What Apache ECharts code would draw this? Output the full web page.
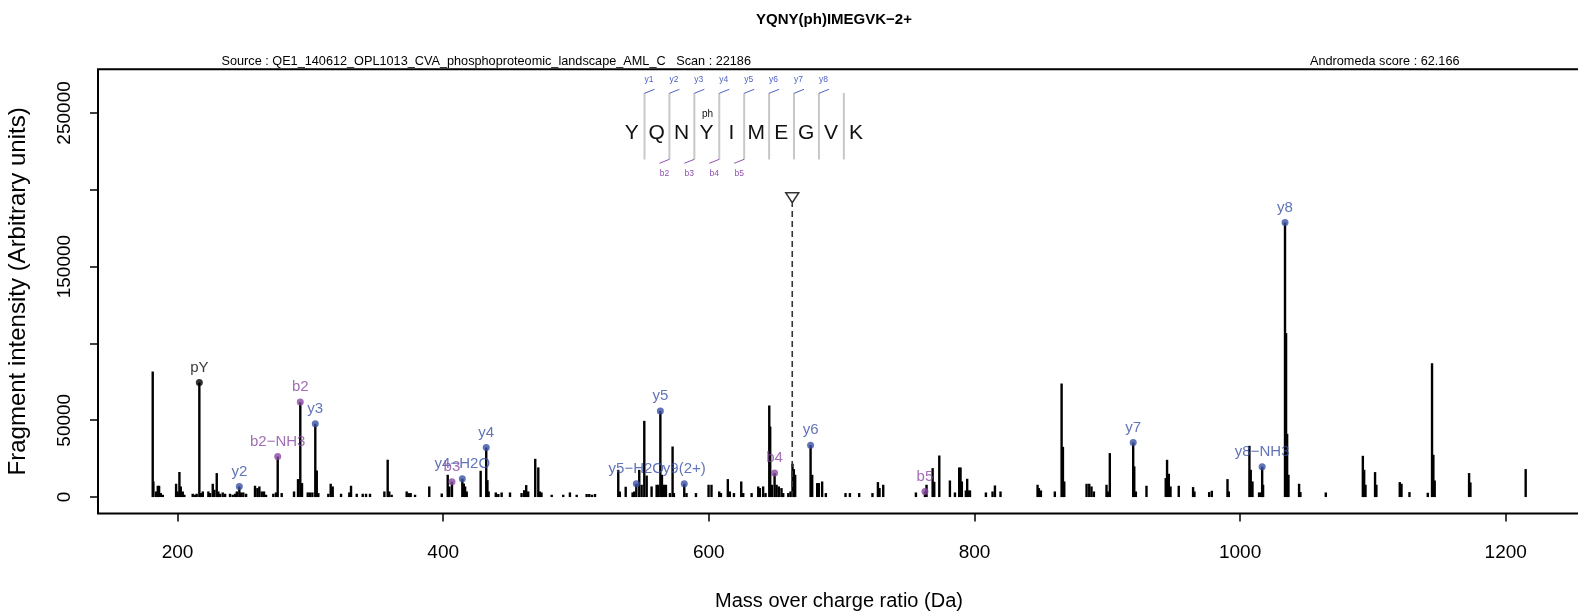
<!DOCTYPE html>
<html>
<head>
<meta charset="utf-8">
<script src="https://cdn.jsdelivr.net/npm/echarts@6/dist/echarts.min.js"></script>
<style>html,body{margin:0;padding:0;background:#fff}#main{width:1578px;height:611px}</style>
</head>
<body>
<div id="main"></div>
<script>
// spectrum peaks (m/z, intensity)
var peakMz = [181.3,181.8,183.8,185.1,186.1,187.4,188.9,198.9,200.1,201.4,202.4,203.9,205.1,211.4,213.2,214.4,216.4,217.7,219.0,
  223.2,224.5,226.5,227.7,229.5,230.7,232.0,234.0,235.8,239.5,241.5,243.3,244.6,246.5,247.8,249.5,251.6,258.3,260.1,261.6,263.4,
  265.1,266.6,272.1,274.1,275.4,278.4,287.7,290.7,292.4,293.7,298.0,299.7,301.5,303.7,304.8,306.0,313.5,315.3,316.8,323.1,329.3,
  330.6,334.9,339.4,341.9,344.9,355.7,358.2,359.4,361.2,372.5,374.0,375.5,378.8,389.5,398.9,403.4,404.6,406.6,414.4,415.5,416.5,
  417.7,428.2,432.4,433.3,434.2,439.6,441.5,444.0,450.3,459.0,461.0,462.5,464.0,469.3,471.6,472.8,474.0,481.7,490.4,495.4,500.5,
  508.0,510.0,512.0,514.3,531.8,533.0,537.4,542.6,543.8,545.4,547.6,549.4,551.4,553.2,556.9,560.7,561.9,563.5,564.7,566.2,567.7,
  570.7,572.7,573.7,581.5,583.2,590.3,599.8,602.0,607.8,609.1,614.3,615.8,618.9,624.4,625.9,632.2,637.2,638.4,640.9,642.7,645.5,
  646.2,647.5,649.5,651.0,652.7,654.7,656.0,659.8,661.5,663.0,664.0,665.0,676.6,677.8,681.6,682.8,685.3,688.1,702.9,706.2,713.2,
  723.2,727.3,728.5,731.3,755.9,762.7,763.9,768.5,769.7,773.5,781.5,785.3,788.5,789.5,790.5,793.5,794.5,795.5,796.6,808.6,813.6,
  815.4,819.6,847.5,848.5,850.0,860.5,865.6,866.6,867.6,884.4,886.4,888.1,889.9,899.4,900.6,901.9,919.5,920.3,921.5,929.5,944.0,
  945.0,946.3,947.6,953.8,964.6,965.6,976.7,978.7,990.5,991.5,1007.0,1008.0,1009.3,1014.3,1015.6,1016.6,1017.3,1033.8,1034.6,
  1035.4,1036.4,1044.4,1045.4,1064.5,1092.4,1093.4,1094.4,1101.6,1102.6,1120.2,1121.5,1127.5,1141.3,1144.5,1145.5,1146.5,1172.4,
  1173.4,1215.0];
var peakInt = [81700,10150,3650,7350,7350,2600,1500,8650,3650,16300,6900,3650,1500,2150,1500,2150,74500,2600,3650,
  3650,2600,8650,4750,15600,3650,2150,3000,2150,2150,1500,2150,3650,6900,3000,3000,2150,7350,5850,6900,3650,
  3650,1500,2150,3000,26400,2600,3650,11700,61800,9100,3000,3000,3000,47700,17300,2600,2150,8650,6900,2150,3000,
  7350,2150,2150,2150,2150,3650,24300,3650,1500,3650,2600,2600,1500,6900,2300,14500,6900,9950,11900,8800,6900,
  3650,17100,32200,11000,3650,3000,2000,3000,3000,2600,4500,7800,3650,24900,19300,3650,3000,1500,1500,3000,1500,
  2000,2000,1500,2000,17700,3600,6700,3000,3600,8650,17700,8000,49600,14000,6900,8000,8000,56000,14500,8000,8000,
  2600,32900,2600,8650,2600,2600,8000,8000,3650,2600,11700,3650,2600,10150,2600,2600,6900,5850,6900,2600,59600,
  45900,8000,15600,8000,6900,5850,2600,2600,3650,21650,18200,14500,33800,14500,9100,9100,10150,2600,2600,2600,2600,
  2600,9750,5850,8000,3000,3650,8000,18850,9950,27050,10800,3000,19250,19250,10150,4300,11900,4300,4300,3000,3650,
  7550,3650,8000,5850,4300,3650,73900,32700,10150,8650,8650,6900,3650,8000,3650,28600,35500,20000,3650,7350,12350,
  24250,15150,6900,7350,6500,3650,3250,4100,11700,3650,33350,17750,10150,3000,3000,19700,8000,178700,106700,
  41150,14500,8650,3250,3000,26850,17750,8000,16250,8000,9750,8650,3250,2800,87100,27500,10800,15600,
  9500,18200];

// annotated fragment ions
var ionMz = [216.4,246.5,275.4,292.4,303.7,406.6,414.4,432.4,545.4,563.5,581.5,649.5,676.6,762.7,919.5,1016.6,1033.8];
var ionInt = [74500,6900,26400,61800,47700,9950,11900,32200,8650,56000,8650,15600,33800,3650,35500,19700,178700];
var ionLabel = ['pY','y2','b2\u2212NH3','b2','y3','b3','y4\u2212H2O','y4','y5\u2212H2O','y5','y9(2+)','b4','y6','b5','y7','y8\u2212NH3','y8'];
var ionType = ['p','y','b','b','y','b','y','y','y','y','y','b','y','b','y','y','y'];

var precursorMz = 662.8;
var precursorInt = 194800;

var sequence = ['Y','Q','N','Y','I','M','E','G','V','K'];
var yIonNames = ['y1','y2','y3','y4','y5','y6','y7','y8'];
var bIonNames = ['b2','b3','b4','b5'];

var xTicks = [200,400,600,800,1000,1200];
var yTicks = [0,50000,100000,150000,200000,250000];
var yTickLabels = [0,50000,150000,250000];

var colors = {y:'#3a51a6', b:'#8a4aa4', p:'#000000'};
var font = "'Liberation Sans', Arial, sans-serif";

var chart = echarts.init(document.getElementById('main'));

function ionSeries(type){
    var d = [];
    for (var i = 0; i < ionMz.length; i++) {
        if (ionType[i] === type) d.push([ionMz[i], ionInt[i], ionLabel[i]]);
    }
    return {
        type:'scatter', data:d, symbolSize:7, z:5,
        itemStyle:{color:colors[type]},
        label:{show:true, position:'top', distance:4, formatter:function(p){return p.data[2];},
            color:colors[type], fontSize:15, fontFamily:font}
    };
}

// peptide sequence diagram above the spectrum
var gfx = [];
var letterX0 = 631.7, step = 24.92, sepX0 = 644.5;
sequence.forEach(function(a, i){
    gfx.push({type:'text', x:letterX0 + i*step, y:133, style:{text:a, font:'21px ' + font, fill:'#111', align:'center', verticalAlign:'middle'}});
});
gfx.push({type:'text', x:letterX0 + 3*step + 1, y:114.5, style:{text:'ph', font:'10px ' + font, fill:'#111', align:'center', verticalAlign:'middle'}});
for (var k = 0; k < sequence.length - 1; k++) {
    var sx = sepX0 + k*step;
    gfx.push({type:'line', shape:{x1:sx, y1:93, x2:sx, y2:159.5}, style:{stroke:'#c8c8c8', lineWidth:2}});
}
yIonNames.forEach(function(n, k){
    var sx = sepX0 + k*step;
    gfx.push({type:'line', shape:{x1:sx, y1:93.3, x2:sx + 10, y2:89.3}, style:{stroke:'#4f62c4', lineWidth:1}});
    gfx.push({type:'text', x:sx + 4.5, y:79.5, style:{text:n, font:'8.5px ' + font, fill:'#4f62c4', align:'center', verticalAlign:'middle'}});
});
bIonNames.forEach(function(n, k){
    var sx = sepX0 + (k + 1)*step;
    gfx.push({type:'line', shape:{x1:sx - 10, y1:163.3, x2:sx, y2:159.3}, style:{stroke:'#9250b0', lineWidth:1}});
    gfx.push({type:'text', x:sx - 5, y:173.5, style:{text:n, font:'8.5px ' + font, fill:'#9250b0', align:'center', verticalAlign:'middle'}});
});
// titles
gfx.push({type:'text', x:834, y:20, style:{text:'YQNY(ph)IMEGVK\u22122+', font:'bold 15px ' + font, fill:'#000', align:'center', verticalAlign:'middle'}});
gfx.push({type:'text', x:221.5, y:61, style:{text:'Source : QE1_140612_OPL1013_CVA_phosphoproteomic_landscape_AML_C   Scan : 22186', font:'12.7px ' + font, fill:'#000', align:'left', verticalAlign:'middle'}});
gfx.push({type:'text', x:1310, y:61, style:{text:'Andromeda score : 62.166', font:'12.7px ' + font, fill:'#000', align:'left', verticalAlign:'middle'}});

var options = {
    backgroundColor:'#fff',
    animation:false,
    textStyle:{fontFamily:font},
    grid:{left:98, right:-2, top:69.3, bottom:97.5, show:true, borderColor:'#000', borderWidth:2, outerBoundsMode:'none'},
    xAxis:{
        type:'value', min:140.1, max:1255.9,
        name:'Mass over charge ratio (Da)', nameLocation:'middle', nameGap:78,
        nameTextStyle:{fontSize:20, color:'#000'},
        axisLine:{show:false, onZero:false},
        axisTick:{show:true, length:8, inside:false, lineStyle:{color:'#000', width:1.5}, customValues:xTicks},
        axisLabel:{color:'#000', fontSize:19, margin:30, customValues:xTicks, formatter:function(v){return String(v);}},
        splitLine:{show:false}
    },
    yAxis:{
        type:'value', min:-10700, max:278400,
        name:'Fragment intensity (Arbitrary units)', nameLocation:'middle', nameGap:68,
        nameTextStyle:{fontSize:24, color:'#000'},
        axisLine:{show:false, onZero:false},
        axisTick:{show:true, length:8, inside:false, lineStyle:{color:'#000', width:1.5}, customValues:yTicks},
        axisLabel:{color:'#000', fontSize:19, margin:24, rotate:90, customValues:yTickLabels, formatter:function(v){return String(v);}},
        splitLine:{show:false}
    },
    graphic:gfx,
    series:[
        {
            type:'bar', barWidth:2.4, z:2,
            data:peakMz.map(function(m, i){return [m, peakInt[i]];}),
            itemStyle:{color:'#000'}
        },
        {
            type:'line', symbol:'none', z:3,
            data:[[precursorMz, 0], [precursorMz, 191000]],
            lineStyle:{color:'#333', width:1.6, type:[6,4]}
        },
        {
            type:'scatter', symbol:'triangle', symbolRotate:180, symbolSize:[13,10], z:4,
            data:[[precursorMz, precursorInt]],
            itemStyle:{color:'#fff', borderColor:'#000', borderWidth:1.5}
        },
        ionSeries('p'),
        ionSeries('y'),
        ionSeries('b')
    ]
};
chart.setOption(options);
</script>
</body>
</html>
